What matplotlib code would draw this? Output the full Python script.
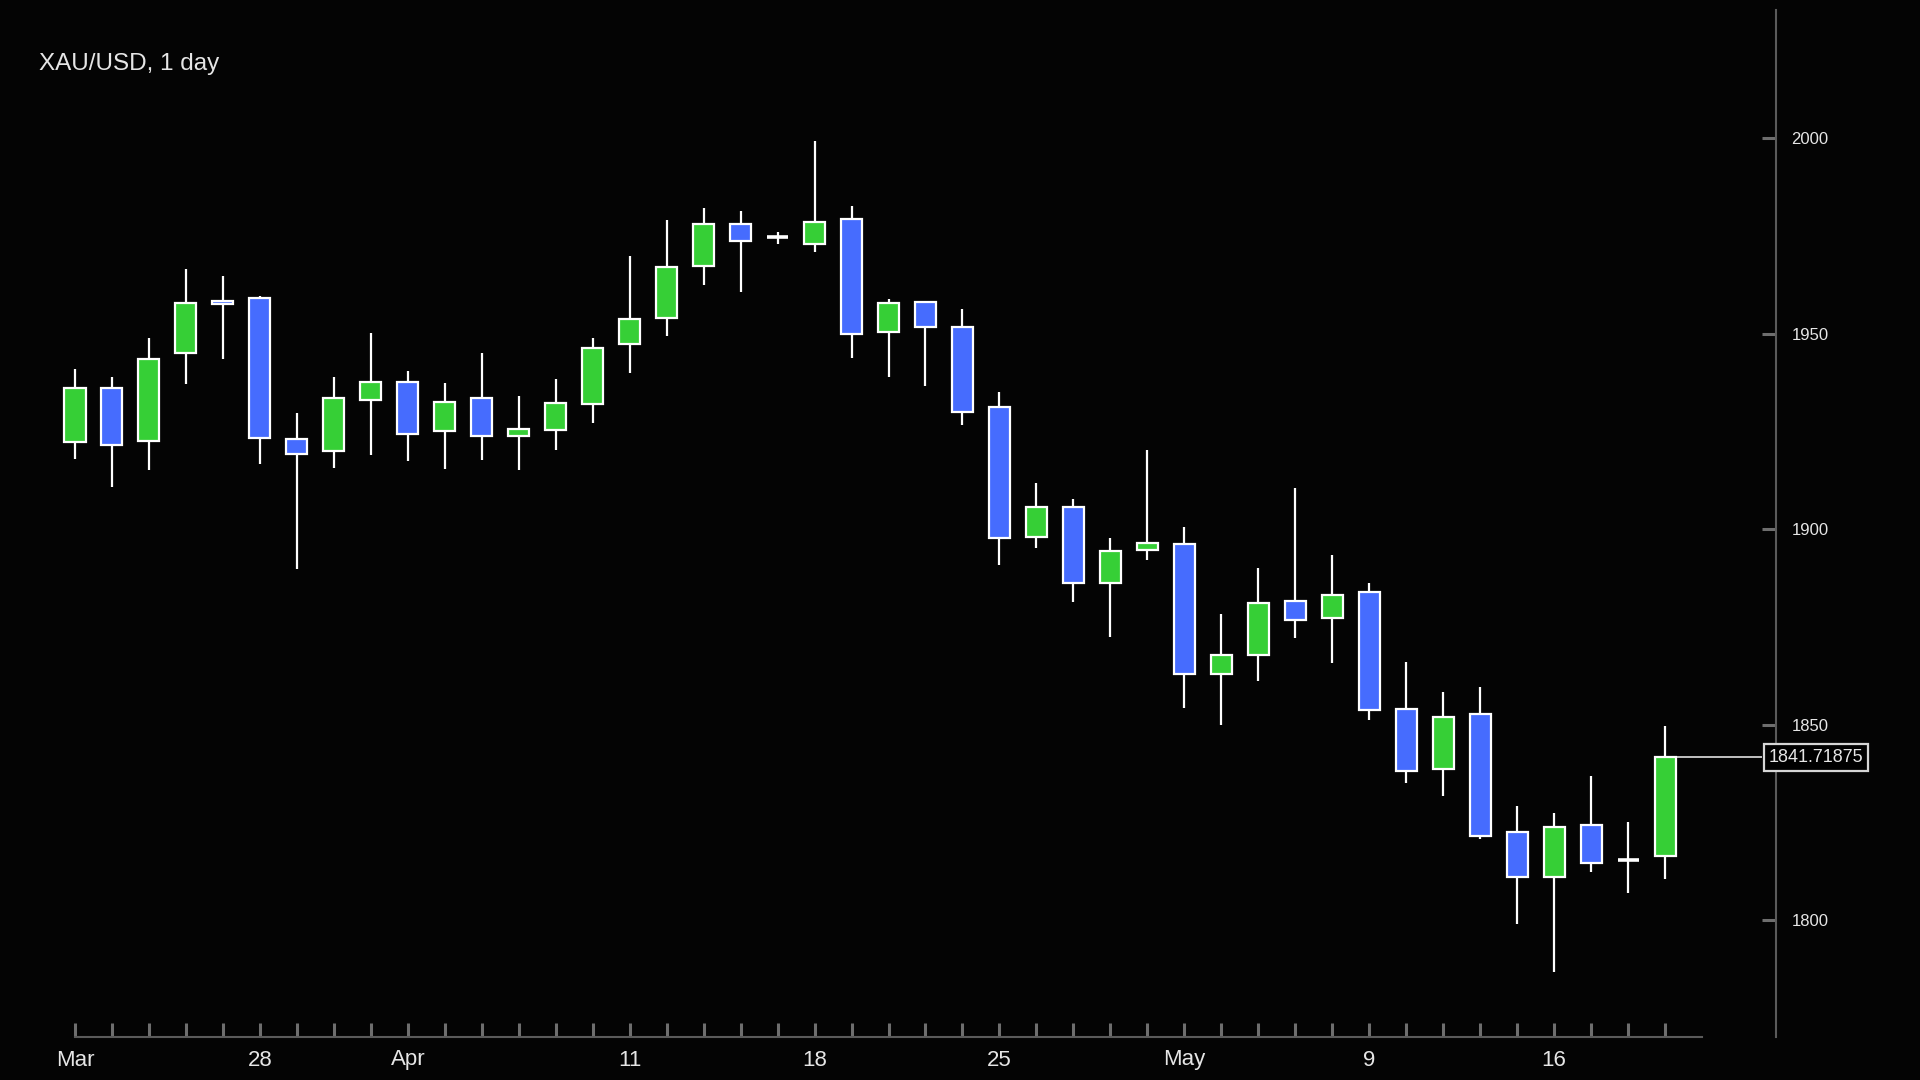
import matplotlib
matplotlib.use("Agg")
import matplotlib.pyplot as plt
import numpy as np

# ---- data (XAU/USD daily) ----
opens = [1922.2, 1936.2, 1922.5, 1945.0, 1958.4, 1959.0, 1923.1, 1920.1, 1933.0, 1937.6,
         1925.0, 1933.6, 1923.8, 1925.3, 1931.9, 1947.3, 1954.0, 1967.3, 1977.9, 1974.8,
         1972.9, 1979.4, 1950.4, 1958.0, 1951.8, 1931.3, 1897.9, 1905.6, 1886.2, 1894.6,
         1896.2, 1863.1, 1867.8, 1881.6, 1877.4, 1883.9, 1854.0, 1838.6, 1852.7, 1822.5,
         1811.2, 1824.3, 1815.5, 1816.5]
highs = [1941.0, 1938.9, 1948.9, 1966.6, 1964.8, 1959.6, 1929.7, 1938.9, 1950.2, 1940.5,
         1937.4, 1945.1, 1934.1, 1938.4, 1948.9, 1969.9, 1979.1, 1982.2, 1981.2, 1976.0,
         1999.1, 1982.7, 1958.8, 1958.3, 1956.3, 1935.1, 1911.8, 1907.7, 1897.7, 1920.2,
         1900.5, 1878.2, 1890.0, 1910.4, 1893.4, 1886.2, 1866.0, 1858.3, 1859.6, 1829.3,
         1827.5, 1836.8, 1825.2, 1849.8]
lows = [1918.0, 1910.8, 1915.2, 1937.2, 1943.6, 1916.7, 1889.8, 1915.6, 1919.0, 1917.5,
        1915.4, 1917.7, 1915.2, 1920.3, 1927.2, 1940.0, 1949.5, 1962.5, 1960.7, 1972.9,
        1970.9, 1943.8, 1938.9, 1936.6, 1926.5, 1890.8, 1895.2, 1881.3, 1872.4, 1892.1,
        1854.4, 1850.0, 1861.1, 1872.3, 1865.8, 1851.2, 1835.2, 1831.7, 1820.7, 1799.0,
        1786.7, 1812.5, 1807.1, 1810.5]
closes = [1936.2, 1921.4, 1943.6, 1957.7, 1957.6, 1923.2, 1919.2, 1933.4, 1937.5, 1924.3,
          1932.6, 1923.8, 1925.7, 1932.3, 1946.2, 1953.6, 1966.9, 1977.9, 1973.7, 1974.8,
          1978.6, 1949.9, 1957.7, 1951.7, 1930.0, 1897.7, 1905.6, 1886.2, 1894.4, 1896.5,
          1862.9, 1867.8, 1881.1, 1876.9, 1883.2, 1853.8, 1838.3, 1852.1, 1821.7, 1811.2,
          1823.8, 1814.8, 1815.5, 1841.71875]

tick_idx = [0, 5, 9, 15, 20, 25, 30, 35, 40]
tick_labels = ["Mar", "28", "Apr", "11", "18", "25", "May", "9", "16"]
y_ticks = [1800, 1850, 1900, 1950, 2000]
title = "XAU/USD, 1 day"

# ---- style ----
BG = "#040404"
UP = "#36cf36"
DOWN = "#466cfe"
AXIS = "#5a5a5a"
TXT = "#e6e6e6"
FONT = ["Liberation Sans", "DejaVu Sans"]
plt.rcParams["font.family"] = FONT

fig = plt.figure(figsize=(19.2, 10.8), dpi=100, facecolor=BG)
W, H = 1920, 1080
left_px, right_px, top_px, bot_px = 38, 1776, 10, 1037
ax = fig.add_axes([left_px / W, (H - bot_px) / H, (right_px - left_px) / W, (bot_px - top_px) / H])
ax.set_facecolor(BG)

x = np.arange(len(opens))
o = np.array(opens); c = np.array(closes)
colors = [UP if cc > oo else DOWN for oo, cc in zip(o, c)]
lws = [2.6 if oo == cc else 1.6 for oo, cc in zip(o, c)]

ax.vlines(x, lows, highs, color="white", linewidth=1.6, zorder=2)
ax.bar(x, np.abs(c - o), bottom=np.minimum(o, c), width=0.57, color=colors,
       edgecolor="white", linewidth=lws, zorder=3)

ax.set_xlim(-1, 46)
ax.set_ylim(1770.2, 2032.7)

# last price line + label
last = closes[-1]
ax.hlines(last, x[-1], 45.62, color="#cfcfcf", linewidth=1.3, zorder=1)
ax.text(45.80, last, f"{last}", ha="left", va="center", fontsize=13, color=TXT,
        clip_on=False, zorder=5,
        bbox=dict(boxstyle="square,pad=0.28", fc="black", ec="#d6d6d6", lw=1.6))

# spines
for s in ["left", "top"]:
    ax.spines[s].set_visible(False)
ax.spines["right"].set_color(AXIS)
ax.spines["right"].set_linewidth(1.5)
ax.spines["bottom"].set_color(AXIS)
ax.spines["bottom"].set_linewidth(1.5)
ax.spines["bottom"].set_bounds(0, 44)

ax.yaxis.tick_right()
ax.set_yticks(y_ticks)
ax.set_yticklabels([str(v) for v in y_ticks])
ax.tick_params(axis="y", direction="in", length=10, width=2.2, color="#6e6e6e",
               pad=11, labelsize=12, labelcolor=TXT)

ax.set_xticks(x)
labels = [""] * len(x)
for i, lab in zip(tick_idx, tick_labels):
    labels[i] = lab
ax.set_xticklabels(labels)
ax.tick_params(axis="x", direction="in", length=10, width=2.2, color="#6e6e6e",
               pad=9, labelsize=16, labelcolor=TXT)

fig.text(39 / W, 1 - 70 / H, title, ha="left", va="baseline", fontsize=17.5, color=TXT)

fig.savefig("out.png", dpi=100, facecolor=BG)
